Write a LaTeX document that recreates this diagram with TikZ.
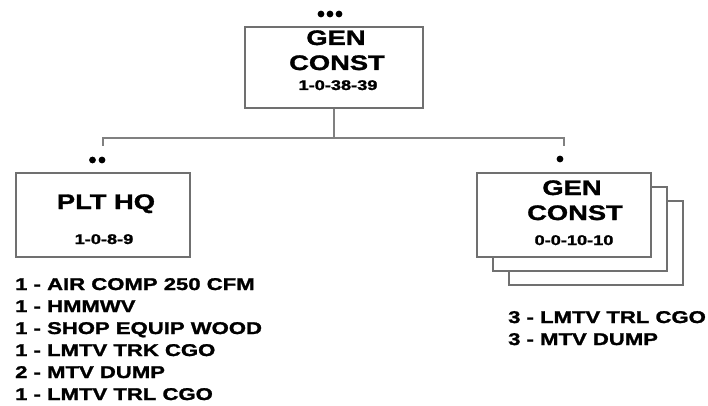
\documentclass[tikz,border=0pt]{standalone}
\usepackage{fontspec}
\newfontfamily\orgfont{Liberation Sans}[FakeStretch=1.3, FakeBold=1.5]
\usetikzlibrary{positioning,shadows}
\definecolor{boxgray}{RGB}{112,112,112}
\definecolor{linegray}{RGB}{128,128,128}
\tikzset{
  unitbox/.style={draw=boxgray, line width=1.4pt, fill=white, minimum width=174pt, minimum height=84pt, inner sep=0pt},
  conn/.style={draw=linegray, line width=1.3pt},
  title/.style={font=\orgfont\bfseries\fontsize{21}{25}\selectfont, anchor=base, inner sep=0pt},
  strength/.style={font=\orgfont\bfseries\fontsize{14}{16}\selectfont, anchor=base, inner sep=0pt},
  items/.style={font=\orgfont\bfseries\fontsize{17}{20}\selectfont, anchor=base west, inner sep=0pt},
}
\begin{document}
\begin{tikzpicture}[x=1pt, y=-1pt]
    \useasboundingbox (0,0) rectangle (708,406);
    % Company
    \node[unitbox, minimum width=178pt, minimum height=81pt] (co) at (334,67.5) {};
    \fill (321,14) circle (3.4pt) (330,14) circle (3.4pt) (339,14) circle (3.4pt);
    \node[title] (coname1) at (336,45) {GEN};
    \node[title] (coname2) at (337,70) {CONST};
    \node[strength] (costr) at (338,90) {1-0-38-39};
    % Platoon HQ
    \node[unitbox] (hq) at (103,215) {};
    \fill (92.5,160) circle (3.4pt) (102,160) circle (3.4pt);
    \node[title] (hqname) at (106,209) {PLT HQ};
    \node[strength] (hqstr) at (104,244) {1-0-8-9};
    % Platoons (x3)
    \node[unitbox, double copy shadow={shadow xshift=16pt, shadow yshift=-14pt}] (plt) at (564,215) {};
    \fill (560,159) circle (3.4pt);
    \node[title] (pltname1) at (572,195) {GEN};
    \node[title] (pltname2) at (575,220) {CONST};
    \node[strength] (pltstr) at (574,245) {0-0-10-10};
    % Connectors
    \coordinate (bus) at (334,138);
    \coordinate (hqtop) at (103,146);
    \coordinate (plttop) at (564,146);
    \draw[conn] (co.south) -- (bus);
    \draw[conn] (hqtop) -- (hqtop |- bus) -- (plttop |- bus) -- (plttop);
    % Equipment
    \node[items] (hqeq1) at (15,290) {1 - AIR COMP 250 CFM};
    \node[items] (hqeq2) at (15,312) {1 - HMMWV};
    \node[items] (hqeq3) at (15,334) {1 - SHOP EQUIP WOOD};
    \node[items] (hqeq4) at (15,356) {1 - LMTV TRK CGO};
    \node[items] (hqeq5) at (15,378) {2 - MTV DUMP};
    \node[items] (hqeq6) at (15,400) {1 - LMTV TRL CGO};
    \node[items] (plteq1) at (508,323) {3 - LMTV TRL CGO};
    \node[items] (plteq2) at (508,345) {3 - MTV DUMP};
\end{tikzpicture}
\end{document}
